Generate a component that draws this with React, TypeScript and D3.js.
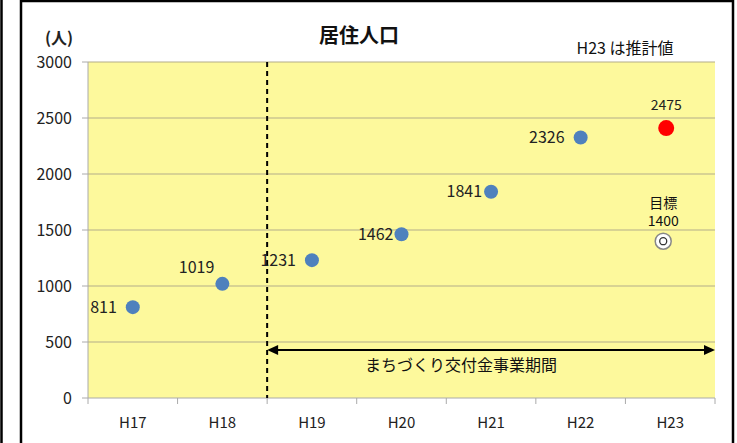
import { scaleBand, scaleLinear } from "d3";

const years = ["H17", "H18", "H19", "H20", "H21", "H22", "H23"];
const actualYears = ["H17", "H18", "H19", "H20", "H21", "H22"];
const population = [811, 1019, 1231, 1462, 1841, 2326];
const estimateYear = "H23";
const estimateValue = 2410; // where the red dot sits
const estimateLabel = "2475";
const goalValue = 1400;
const yTicks = [0, 500, 1000, 1500, 2000, 2500, 3000];

const width = 737;
const height = 443;
const left = 88;
const right = 715;
const top = 62;
const bottom = 398;

const font = "'Noto Sans CJK JP', 'Noto Sans', sans-serif";

function App() {
  const x = scaleBand().domain(years).range([left, right]).padding(0);
  const y = scaleLinear().domain([0, 3000]).range([bottom, top]);
  const bw = x.bandwidth();
  const cx = (d: string) => (x(d) as number) + bw / 2;
  const splitX = x("H19") as number;

  // label offsets: [dx, dy] relative to the point
  const labelPos: [number, number][] = [
    [-16, 0],
    [-8, -16],
    [-16, 0],
    [-8, 0],
    [-9, 0],
    [-16, 0],
  ];

  return (
    <svg
      width={width}
      height={height}
      style={{ position: "absolute", left: 0, top: 0, background: "#fff" }}
      fontFamily={font}
    >
      <line x1={1.5} x2={1.5} y1={0} y2={height} stroke="#000" strokeWidth={2.5} />
      <rect x={21} y={1} width={712} height={height + 5} fill="#fff" stroke="#000" strokeWidth={2.5} />

      <rect x={left} y={top} width={right - left} height={bottom - top} fill="#fdf99c" />

      {yTicks.map((t) => (
        <g key={t}>
          {t > 0 && (
            <line x1={left} x2={right} y1={y(t)} y2={y(t)} stroke="#b3ae8a" strokeWidth={1.2} />
          )}
          <line x1={left - 6} x2={left} y1={y(t)} y2={y(t)} stroke="#aaa" />
          <text x={72} y={y(t)} dy="0.35em" textAnchor="end" fontSize={16} fill="#222">
            {t}
          </text>
        </g>
      ))}
      <line x1={left} x2={left} y1={top} y2={bottom} stroke="#aaa" />
      <line x1={left} x2={right} y1={bottom} y2={bottom} stroke="#aaa" />
      {years.map((d, i) => (
        <g key={d}>
          <line x1={x(d) as number} x2={x(d) as number} y1={bottom} y2={bottom + 6} stroke="#aaa" />
          {i === years.length - 1 && (
            <line x1={right} x2={right} y1={bottom} y2={bottom + 6} stroke="#aaa" />
          )}
          <text x={cx(d)} y={423} dy="0.35em" textAnchor="middle" fontSize={15} fill="#222">
            {d}
          </text>
        </g>
      ))}

      <line
        x1={splitX}
        x2={splitX}
        y1={top}
        y2={bottom}
        stroke="#000"
        strokeWidth={2}
        strokeDasharray="5,4"
      />

      <line x1={splitX + 10} x2={right - 10} y1={350} y2={350} stroke="#000" strokeWidth={2} />
      <path d={`M${splitX},350 l11,-5 l0,10 z`} fill="#000" />
      <path d={`M${right},350 l-11,-5 l0,10 z`} fill="#000" />
      <text x={461} y={365} dy="0.35em" textAnchor="middle" fontSize={16} fill="#111">
        まちづくり交付金事業期間
      </text>

      {actualYears.map((d, i) => (
        <g key={d}>
          <circle cx={cx(d)} cy={y(population[i])} r={7} fill="#4f81bd" />
          <text
            x={cx(d) + labelPos[i][0]}
            y={y(population[i]) + labelPos[i][1]}
            dy="0.35em"
            textAnchor="end"
            fontSize={16}
            fill="#222"
          >
            {population[i]}
          </text>
        </g>
      ))}

      <circle cx={cx(estimateYear) - 4} cy={y(estimateValue)} r={8} fill="#ff0000" />
      <text
        x={cx(estimateYear) - 4}
        y={y(estimateValue) - 23}
        dy="0.35em"
        textAnchor="middle"
        fontSize={14}
        fill="#222"
      >
        {estimateLabel}
      </text>

      <circle cx={cx(estimateYear) - 7} cy={y(goalValue)} r={8} fill="#fff" stroke="#888" strokeWidth={1.5} />
      <circle cx={cx(estimateYear) - 7} cy={y(goalValue)} r={3.5} fill="none" stroke="#333" strokeWidth={1.3} />
      <text x={cx(estimateYear) - 7} y={203} dy="0.35em" textAnchor="middle" fontSize={14} fill="#111">
        目標
      </text>
      <text x={cx(estimateYear) - 7} y={y(goalValue) - 20} dy="0.35em" textAnchor="middle" fontSize={14} fill="#111">
        {goalValue}
      </text>

      <text x={359} y={36} dy="0.35em" textAnchor="middle" fontSize={20} fontWeight="bold" fill="#111">
        居住人口
      </text>
      <text x={59} y={38} dy="0.35em" textAnchor="middle" fontSize={16} fontWeight="bold" fill="#222">
        (人)
      </text>
      <text x={625} y={48} dy="0.35em" textAnchor="middle" fontSize={16} fill="#111">
        H23 は推計値
      </text>
    </svg>
  );
}

export default App;
